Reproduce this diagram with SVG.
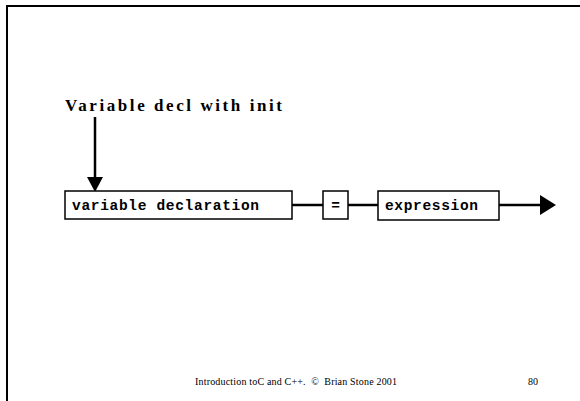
<svg xmlns="http://www.w3.org/2000/svg" width="580" height="401" viewBox="0 0 580 401">
<style>
.box{fill:#fff;stroke:#000;stroke-width:1.5}
.lbl{font-family:"Liberation Mono",monospace;font-weight:bold;font-size:14.5px;fill:#000}
.ln{stroke:#000;stroke-width:2.5;fill:none}
.foot{font-family:"Liberation Serif",serif;font-size:10px;fill:#000;white-space:pre}
</style>
<rect x="0" y="0" width="580" height="401" fill="#fff"/>
<path d="M7,401 V6 H580" fill="none" stroke="#000" stroke-width="2"/>
<text x="65" y="111" font-family="'Liberation Serif',serif" font-weight="bold" font-size="17" textLength="217" lengthAdjust="spacing">Variable decl with init</text>
<g id="connectors">
<line class="ln" x1="95" y1="117" x2="95" y2="177"/>
<path d="M87,177 L103,177 L95,192 Z" fill="#000"/>
<line class="ln" x1="292" y1="205" x2="323" y2="205"/>
<line class="ln" x1="348" y1="205" x2="378" y2="205"/>
<line class="ln" x1="499" y1="205" x2="540" y2="205"/>
<path d="M540,195 L556,205 L540,215 Z" fill="#000"/>
</g>
<g id="node-vardecl">
<rect class="box" x="65" y="191" width="227" height="28"/>
<text class="lbl" x="72" y="210" textLength="187" lengthAdjust="spacing">variable declaration</text>
</g>
<g id="node-eq">
<rect class="box" x="323" y="191" width="25" height="28"/>
<text class="lbl" x="335.5" y="210" text-anchor="middle" font-weight="normal">=</text>
</g>
<g id="node-expr">
<rect class="box" x="378" y="191" width="121" height="29"/>
<text class="lbl" x="385" y="210" textLength="93" lengthAdjust="spacing">expression</text>
</g>
<text class="foot" x="195" y="385" textLength="202" lengthAdjust="spacing">Introduction toC and C++.  ©  Brian Stone 2001</text>
<text class="foot" x="528" y="385">80</text>
</svg>
